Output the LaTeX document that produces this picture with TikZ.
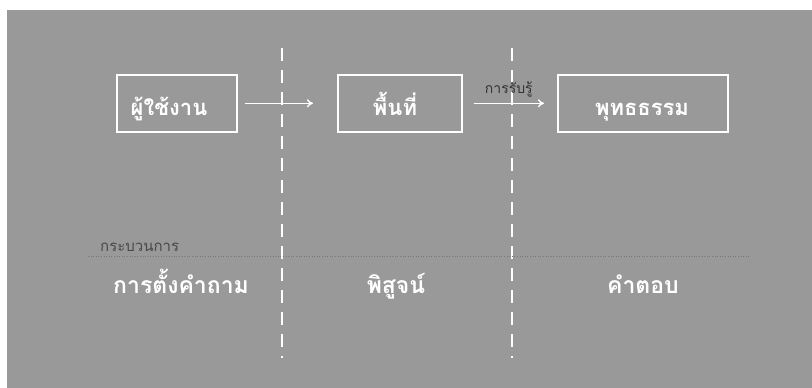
\documentclass[tikz,border=0pt]{standalone}
\usepackage{fontspec}
\newfontfamily\thaifont[Script=Thai]{Loma}
\definecolor{bggray}{RGB}{153, 153, 153}
\definecolor{linegray}{RGB}{120, 120, 120}
\usetikzlibrary{arrows.meta, positioning}

\begin{document}
\begin{tikzpicture}[x=1pt, y=-1pt,
    stagebox/.style={draw=white, line width=1.6pt, anchor=north west, inner sep=0pt},
    stagetext/.style={text=white, font=\thaifont\bfseries\fontsize{22}{26}\selectfont, anchor=base, inner sep=0pt},
    flow/.style={-{To[length=6pt, width=8pt]}, white, line width=1.4pt},
    divider/.style={white, line width=1.6pt, dash pattern=on 13pt off 9pt},
    phase/.style={text=white, font=\thaifont\bfseries\fontsize{23}{27}\selectfont, anchor=base, inner sep=0pt}]
  \useasboundingbox (0, 0) rectangle (812, 388);
  \fill[bggray] (7, 10) rectangle (812, 388);

  % Dividers
  \coordinate (d1top) at (282, 48);
  \coordinate (d1bot) at (282, 358);
  \coordinate (d2top) at (512, 48);
  \coordinate (d2bot) at (512, 358);
  \draw[divider] (d1top) -- (d1bot);
  \draw[divider] (d2top) -- (d2bot);

  % Stages
  \node[stagebox, minimum width=120pt, minimum height=57pt] (user) at (116, 74) {};
  \node[stagebox, minimum width=124pt, minimum height=57pt] (space) at (337, 74) {};
  \node[stagebox, minimum width=170pt, minimum height=57pt] (dharma) at (557, 74) {};
  \node[stagetext] (usertxt) at (169, 115) {ผู้ใช้งาน};
  \node[stagetext] (spacetxt) at (395, 115) {พื้นที่};
  \node[stagetext] (dharmatxt) at (642, 115) {พุทธธรรม};

  % Flow
  \draw[flow] ([xshift=7pt]user.east) -- ([xshift=-24pt]space.west);
  \draw[flow] ([xshift=11pt]space.east) -- ([xshift=-13pt]dharma.west)
    node[midway, above=2pt, font=\thaifont\fontsize{14}{16}\selectfont, text=black!80] {การรับรู้};

  % Process row
  \coordinate (rowl) at (88, 256);
  \coordinate (rowr) at (750, 256);
  \draw[linegray, dotted, line width=0.6pt] (rowl) -- (rowr);
  \node[font=\thaifont\fontsize{15}{17}\selectfont, text=linegray!60!black, anchor=base west, inner sep=0pt] (proc) at (100, 251) {กระบวนการ};
  \node[phase] (ask) at (181, 293) {การตั้งคำถาม};
  \node[phase] (prove) at (396, 293) {พิสูจน์};
  \node[phase] (answer) at (643, 293) {คำตอบ};
\end{tikzpicture}
\end{document}
